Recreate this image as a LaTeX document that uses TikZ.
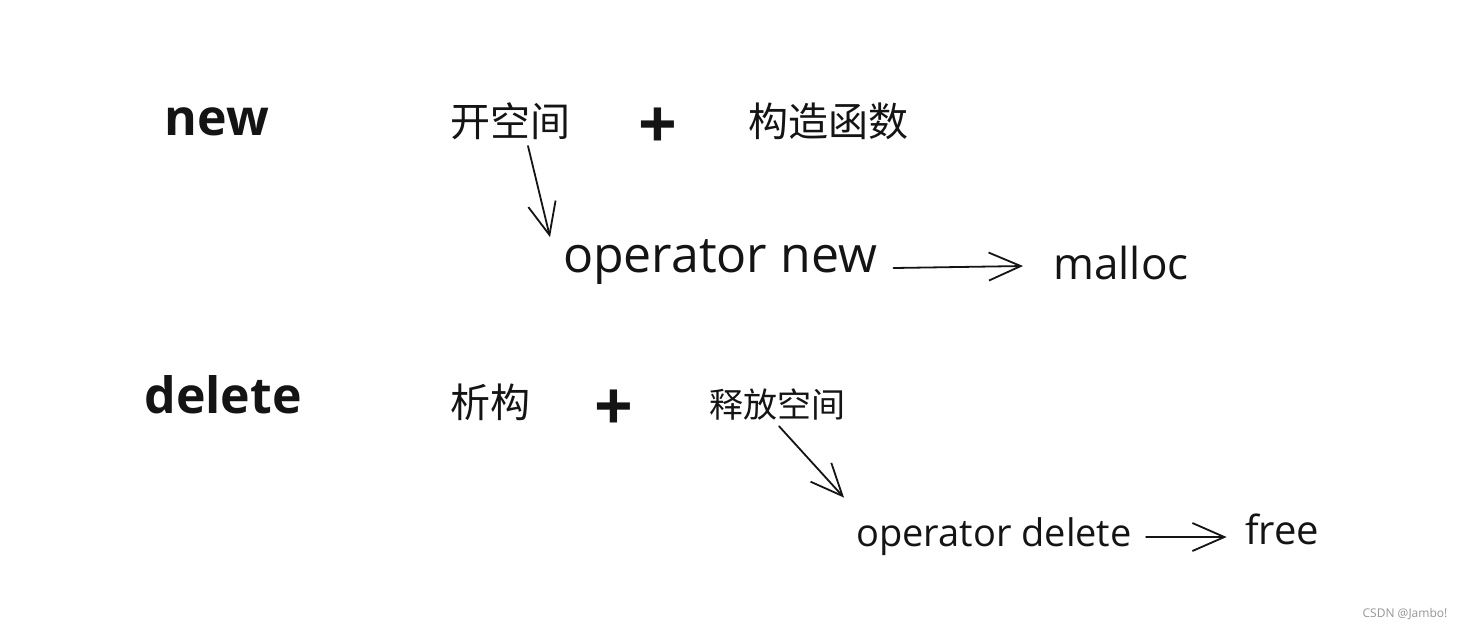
\documentclass[tikz,border=0pt]{standalone}
\usepackage{fontspec}
\setmainfont{Open Sans}
\newfontfamily\cjk{Noto Sans CJK SC}
\usepackage{tikz}
\usetikzlibrary{arrows.meta, positioning}
\definecolor{SketchInk}{RGB}{20, 20, 20}
\definecolor{MarkGray}{RGB}{150, 150, 150}

\tikzset{
  keyword/.style={text=SketchInk, font=\fontsize{25}{28}\selectfont\bfseries, inner sep=0pt},
  codeword/.style={text=SketchInk, font=\fontsize{25}{28}\selectfont, inner sep=1pt},
  hanzi/.style={text=SketchInk, font=\cjk\fontsize{20}{24}\selectfont, inner sep=1pt},
  plussign/.style={text=SketchInk, font=\fontsize{34}{36}\selectfont\bfseries, inner sep=0pt},
  sketcharrow/.style={draw=SketchInk, line width=0.9pt, line cap=round,
    -{Straight Barb[length=16pt, width=14pt, line width=0.9pt]}}
}

\begin{document}
\begin{tikzpicture}[x=0.5pt,y=-0.5pt]
  \path[use as bounding box] (0,0) rectangle (1459,629);
  \fill[white] (0,0) rectangle (1459,629);

  % new = alloc + ctor
  \node[keyword] (new) at (217,122) {new};
  \node[hanzi] (alloc) at (510,121) {开空间};
  \node[plussign] (plusA) at (658,128) {+};
  \node[hanzi] (ctor) at (828,121) {构造函数};
  \node[codeword] (opnew) at (720,262) {operator new};
  \node[codeword, font=\fontsize{22}{26}\selectfont] (malloc) at (1121,263) {malloc};

  \draw[sketcharrow] (alloc.south) ++(18,4) -- (opnew.north -| 550,0);
  \draw[sketcharrow] (opnew.east) ++(14,6) -- ([xshift=-14pt]malloc.west |- 0,266);

  % delete = dtor + free space
  \node[keyword] (delete) at (223,395) {delete};
  \node[hanzi] (dtor) at (490,402) {析构};
  \node[plussign] (plusB) at (614,410) {+};
  \node[hanzi, font=\cjk\fontsize{17}{20}\selectfont] (release) at (777,404) {释放空间};
  \node[codeword, font=\fontsize{19}{22}\selectfont] (opdel) at (994,537) {operator delete};
  \node[codeword, font=\fontsize{20}{24}\selectfont] (free) at (1282,529) {free};

  \draw[sketcharrow] (release.south) ++(2,4) -- ([xshift=-75pt, yshift=9pt]opdel.north);
  \draw[sketcharrow] (opdel.east) ++(12,0) -- ([xshift=-8pt]free.west |- 0,537);

  % watermark
  \node[text=MarkGray, font=\fontsize{6}{7}\selectfont, inner sep=0pt] (mark) at (1405,614) {CSDN @Jambo!};
\end{tikzpicture}
\end{document}
